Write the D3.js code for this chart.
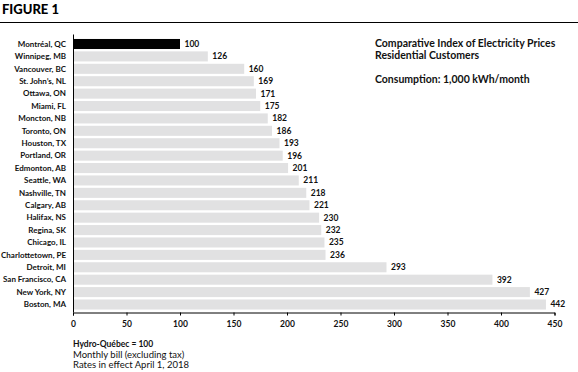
<!DOCTYPE html>
<html>
<head>
<meta charset="utf-8">
<script src="https://cdn.jsdelivr.net/npm/d3@7"></script>
<style>
  body { margin: 0; background: #fff; }
  svg { display: block; font-family: Lato, "Open Sans", sans-serif; }
</style>
</head>
<body>
<svg id="chart" width="578" height="372"></svg>
<script>
// cities and index values (Hydro-Québec = 100)
var cities = ["Montréal, QC", "Winnipeg, MB", "Vancouver, BC", "St. John’s, NL", "Ottawa, ON",
  "Miami, FL", "Moncton, NB", "Toronto, ON", "Houston, TX", "Portland, OR", "Edmonton, AB",
  "Seattle, WA", "Nashville, TN", "Calgary, AB", "Halifax, NS", "Regina, SK", "Chicago, IL",
  "Charlottetown, PE", "Detroit, MI", "San Francisco, CA", "New York, NY", "Boston, MA"];
var values = [100, 126, 160, 169, 171, 175, 182, 186, 193, 196, 201, 211, 218, 221, 230, 232,
  235, 236, 293, 392, 427, 442];
var xTicks = [0, 50, 100, 150, 200, 250, 300, 350, 400, 450];
var legendLines = ["Comparative Index of Electricity Prices", "Residential Customers", "", "Consumption: 1,000 kWh/month"];
var notes = ["Hydro-Québec = 100", "Monthly bill (excluding tax)", "Rates in effect April 1, 2018"];

var data = cities.map(function(c, i) { return {city: c, value: values[i]}; });

var svg = d3.select("#chart");

var margin = {left: 73, top: 36};
var plotH = 276.5;

var x = d3.scaleLinear().domain([0, 450]).range([0, 481.5]);
var y = d3.scaleBand().domain(cities).range([0, plotH]).paddingInner(0.19).paddingOuter(0.24);

// header
svg.append("text")
  .attr("x", 2).attr("y", 14)
  .style("font-weight", "900")
  .style("font-size", "13px")
  .text("FIGURE 1");

svg.append("line")
  .attr("x1", 0).attr("x2", 578)
  .attr("y1", 22.5).attr("y2", 22.5)
  .style("stroke", "#000").style("stroke-width", 1.2);

var g = svg.append("g").attr("transform", "translate(" + margin.left + "," + margin.top + ")");

g.selectAll(".bar")
  .data(data)
  .enter()
  .append("rect")
  .attr("class", "bar")
  .attr("x", 0)
  .attr("y", function(d) { return y(d.city); })
  .attr("width", function(d) { return x(d.value); })
  .attr("height", y.bandwidth())
  .style("fill", function(d, i) { return i == 0 ? "#000" : "#e1e1e2"; });

g.selectAll(".val")
  .data(data)
  .enter()
  .append("text")
  .attr("x", function(d) { return x(d.value) + 4.5; })
  .attr("y", function(d) { return y(d.city) + y.bandwidth() / 2; })
  .attr("dy", "0.35em")
  .style("font-size", "8.5px")
  .style("font-weight", "bold")
  .style("fill", "#111")
  .text(function(d) { return d.value; });

g.selectAll(".city")
  .data(data)
  .enter()
  .append("text")
  .attr("x", -7)
  .attr("y", function(d) { return y(d.city) + y.bandwidth() / 2; })
  .attr("dy", "0.35em")
  .attr("text-anchor", "end")
  .style("font-size", "8px")
  .style("font-weight", "bold")
  .style("fill", "#111")
  .text(function(d) { return d.city; });

// vertical axis line
g.append("line")
  .attr("x1", 0.5).attr("x2", 0.5)
  .attr("y1", -1.5).attr("y2", plotH)
  .style("stroke", "#000").style("stroke-width", 1);

var xAxis = g.append("g")
  .attr("transform", "translate(0," + plotH + ")")
  .call(d3.axisBottom(x).tickValues(xTicks).tickSize(3).tickPadding(5));
xAxis.select(".domain").style("stroke", "#000");
xAxis.selectAll("text")
  .style("font-family", "Lato, sans-serif")
  .style("font-size", "8.5px")
  .style("font-weight", "bold")
  .style("fill", "#111");

// legend block
svg.selectAll(".leg")
  .data(legendLines)
  .enter()
  .append("text")
  .attr("x", 375)
  .attr("y", function(d, i) { return 47 + i * 12; })
  .style("font-size", "10.5px")
  .style("font-weight", "bold")
  .style("fill", "#111")
  .text(function(d) { return d; });

// footnotes
svg.selectAll(".note")
  .data(notes)
  .enter()
  .append("text")
  .attr("x", 73)
  .attr("y", function(d, i) { return [347, 358, 368][i]; })
  .style("font-size", function(d, i) { return i == 0 ? "8.5px" : "9.5px"; })
  .style("font-weight", function(d, i) { return i == 0 ? "bold" : "normal"; })
  .style("fill", "#111")
  .text(function(d) { return d; });
</script>
</body>
</html>
